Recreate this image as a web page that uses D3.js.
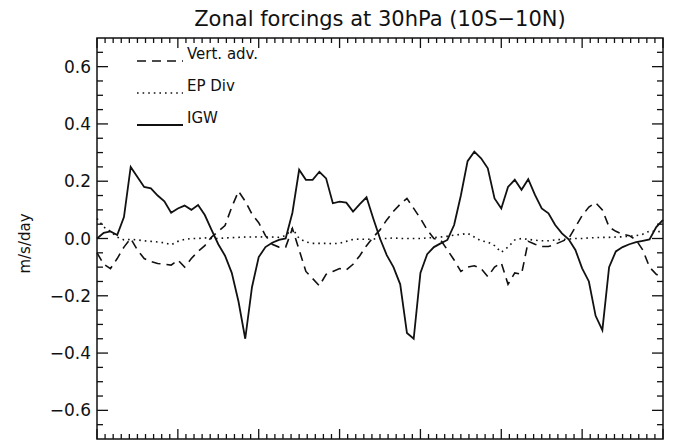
<!DOCTYPE html>
<html><head><meta charset="utf-8">
<script src="https://cdn.jsdelivr.net/npm/d3@7"></script>
<style>body{margin:0;background:#fff}svg{display:block}</style>
</head><body>
<script>
const months = d3.range(0, 85);
const vertAdv = [-0.05,-0.09,-0.105,-0.07,-0.03,0.0,-0.04,-0.07,-0.08,-0.087,-0.09,-0.093,-0.075,-0.1,-0.07,-0.045,-0.025,0.005,0.025,0.045,0.11,0.165,0.13,0.085,0.055,0.01,-0.02,-0.03,-0.03,0.035,-0.04,-0.115,-0.14,-0.165,-0.125,-0.115,-0.105,-0.11,-0.09,-0.06,-0.025,0.005,0.03,0.065,0.095,0.12,0.14,0.105,0.07,0.03,0.0,-0.005,-0.04,-0.075,-0.115,-0.1,-0.095,-0.105,-0.133,-0.1,-0.085,-0.16,-0.12,-0.125,-0.01,-0.02,-0.028,-0.028,-0.02,-0.01,0.0,0.04,0.08,0.11,0.125,0.1,0.04,0.025,0.015,0.01,-0.005,-0.04,-0.1,-0.125,-0.135];
const epDiv = [0.07,0.04,0.025,0.005,-0.005,-0.003,-0.005,-0.008,-0.01,-0.012,-0.015,-0.022,-0.01,-0.003,0.0,0.0,0.002,0.0,0.0,0.002,0.003,0.004,0.005,0.005,0.006,0.005,0.005,0.004,0.01,0.035,0.0,-0.012,-0.017,-0.017,-0.017,-0.018,-0.017,-0.01,-0.003,-0.002,-0.003,-0.002,0.0,0.0,0.002,0.0,0.0,0.0,0.0,0.002,0.003,0.005,0.008,0.012,0.014,0.018,0.005,-0.008,-0.012,-0.025,-0.048,-0.03,-0.005,0.0,-0.003,-0.006,-0.008,-0.008,-0.005,-0.003,-0.002,0.0,0.0,0.002,0.003,0.004,0.004,0.005,0.006,0.008,0.01,0.015,0.026,0.025,0.023];
const igw = [0.0,0.02,0.025,0.012,0.075,0.25,0.215,0.18,0.175,0.15,0.13,0.09,0.105,0.115,0.1,0.117,0.082,0.03,-0.02,-0.06,-0.12,-0.22,-0.35,-0.17,-0.065,-0.03,-0.015,-0.005,0.0,0.09,0.24,0.205,0.205,0.233,0.21,0.123,0.129,0.125,0.094,0.12,0.144,0.07,0.0,-0.058,-0.1,-0.16,-0.33,-0.35,-0.12,-0.055,-0.03,-0.017,-0.005,0.047,0.15,0.27,0.303,0.28,0.245,0.14,0.105,0.18,0.205,0.17,0.207,0.152,0.105,0.088,0.047,0.018,-0.003,-0.04,-0.104,-0.15,-0.27,-0.32,-0.1,-0.045,-0.03,-0.02,-0.013,-0.008,-0.003,0.04,0.065];
const yTicks = [-0.6,-0.4,-0.2,0.0,0.2,0.4,0.6];
const seriesNames = ["Vert. adv.","EP Div","IGW"];

const W = 676, H = 441;
const L = 97, R = 663, T = 38, B = 439;
const svg = d3.select("body").append("svg").attr("width", W).attr("height", H);
const x = d3.scaleLinear().domain([0, 84]).range([L, R]);
const y = d3.scaleLinear().domain([-0.7, 0.7]).range([B, T]);
const ink = "#111";
const font = "DejaVu Sans, sans-serif";

// frame
svg.append("rect").attr("x", L).attr("y", T).attr("width", R - L).attr("height", B - T)
  .attr("fill", "none").attr("stroke", ink).attr("stroke-width", 1.5);

// x ticks (top/bottom)
const xMinor = d3.range(0, 84.001, 1.2);
xMinor.forEach((v, k) => {
  const major = k % 10 === 0;
  const len = major ? 10 : 5;
  const px = x(v);
  svg.append("line").attr("x1", px).attr("x2", px).attr("y1", B).attr("y2", B - len).attr("stroke", ink).attr("stroke-width", 1.3);
  svg.append("line").attr("x1", px).attr("x2", px).attr("y1", T).attr("y2", T + len).attr("stroke", ink).attr("stroke-width", 1.3);
});
// y ticks
const yMinor = d3.range(-0.65, 0.7, 0.05);
yMinor.forEach(v => {
  const major = Math.abs(Math.round(v * 100) % 20) === 0;
  const len = major ? 11 : 6;
  const py = y(v);
  svg.append("line").attr("x1", L).attr("x2", L + len).attr("y1", py).attr("y2", py).attr("stroke", ink).attr("stroke-width", 1.3);
  svg.append("line").attr("x1", R).attr("x2", R - len).attr("y1", py).attr("y2", py).attr("stroke", ink).attr("stroke-width", 1.3);
});
yTicks.forEach(v => {
  svg.append("text").attr("x", L - 6).attr("y", y(v)).attr("dy", "0.36em")
    .attr("text-anchor", "end").attr("font-family", font).attr("font-size", 17).attr("fill", ink)
    .text(d3.format(".1f")(v).replace("-", "\u2212"));
});

// title and axis label
svg.append("text").attr("x", (L + R) / 2).attr("y", 26).attr("text-anchor", "middle")
  .attr("font-family", font).attr("font-size", 21).attr("fill", ink)
  .text("Zonal forcings at 30hPa (10S\u221210N)");
svg.append("text").attr("transform", `translate(30,${(T + B) / 2 + 5}) rotate(-90)`)
  .attr("text-anchor", "middle").attr("font-family", font).attr("font-size", 15).attr("fill", ink)
  .text("m/s/day");

const line = d3.line().x((d, i) => x(months[i])).y(d => y(d));
const styles = [
  {data: vertAdv, dash: "9,6", w: 1.6},
  {data: epDiv, dash: "1.6,4", w: 1.6},
  {data: igw, dash: null, w: 1.8}
];
styles.forEach(s => {
  svg.append("path").datum(s.data).attr("d", line).attr("fill", "none")
    .attr("stroke", ink).attr("stroke-width", s.w)
    .attr("stroke-dasharray", s.dash);
});

// legend
const legY = [61, 93, 125];
styles.forEach((s, k) => {
  svg.append("line").attr("x1", 137).attr("x2", 183).attr("y1", legY[k]).attr("y2", legY[k])
    .attr("stroke", ink).attr("stroke-width", s.w).attr("stroke-dasharray", s.dash);
  svg.append("text").attr("x", 187).attr("y", legY[k] - 2)
    .attr("font-family", font).attr("font-size", 15).attr("fill", ink).text(seriesNames[k]);
});
</script>
</body></html>
